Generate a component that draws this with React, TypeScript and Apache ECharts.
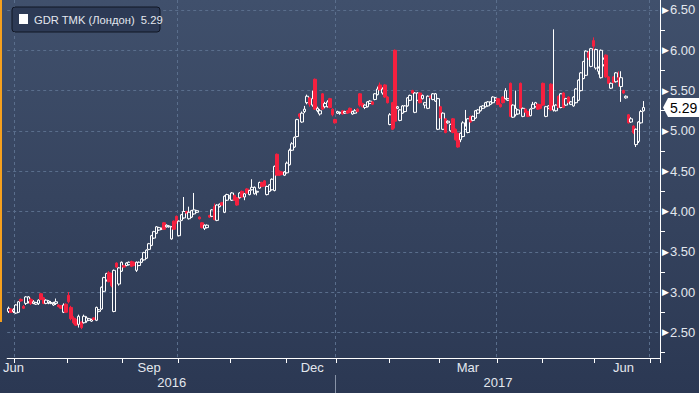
import React, { useEffect, useRef } from "react";
import * as echarts from "echarts";

// ---- x categories: trading days per month (London calendar) ----
const MONTH_KEYS = ["2016-06", "2016-07", "2016-08", "2016-09", "2016-10", "2016-11", "2016-12", "2017-01", "2017-02", "2017-03", "2017-04", "2017-05", "2017-06", "2017-07"];
const TRADING_DAYS = [3, 21, 22, 22, 21, 22, 20, 21, 20, 23, 18, 21, 22, 4];
const MONTH_LABEL_IDX = [2, 56, 121, 183, 245];
const MONTH_LABEL_TXT = ["Jun", "Sep", "Dec", "Mar", "Jun"];
const YEAR_LABEL_IDX = [65, 195];
const YEAR_LABEL_TXT = ["2016", "2017"];
const GRID_MONTHS = ["2016-07", "2016-10", "2017-01", "2017-04", "2017-07"];
const YEAR_SPLIT_MONTH = "2017-01";
const SERIES_NAME = "GDR TMK (Лондон)";
const Y_MIN = 2;
const Y_MAX = 6.624;
const Y_STEP = 0.5;

// ---- daily candles: [open, close, low, high] ----
const OHLC: [number, number, number, number][] = [
  [2.76, 2.80, 2.74, 2.82], [2.79, 2.75, 2.74, 2.80], [2.76, 2.78, 2.74, 2.80], [2.74, 2.84, 2.73, 2.85], [2.75, 2.88, 2.74, 2.89],
  [2.91, 2.89, 2.88, 2.92], [2.82, 2.80, 2.79, 2.84], [2.86, 2.94, 2.84, 2.95], [2.88, 2.94, 2.86, 2.95], [2.91, 2.86, 2.84, 2.93],
  [2.86, 2.88, 2.85, 2.90], [2.85, 2.87, 2.84, 2.88], [2.86, 2.90, 2.84, 2.91], [2.98, 2.91, 2.90, 2.99], [2.93, 2.86, 2.85, 2.94],
  [2.86, 2.90, 2.85, 2.91], [2.87, 2.89, 2.85, 2.90], [2.86, 2.87, 2.85, 2.89], [2.84, 2.86, 2.83, 2.88], [2.86, 2.88, 2.84, 2.92],
  [2.84, 2.82, 2.81, 2.85], [2.83, 2.80, 2.79, 2.84], [2.75, 2.84, 2.74, 2.86], [2.85, 2.75, 2.74, 2.86], [2.96, 2.88, 2.86, 3.00],
  [2.81, 2.67, 2.65, 2.83], [2.68, 2.62, 2.60, 2.70], [2.66, 2.59, 2.58, 2.68], [2.60, 2.70, 2.56, 2.72], [2.63, 2.56, 2.54, 2.64],
  [2.62, 2.70, 2.61, 2.72], [2.64, 2.68, 2.62, 2.70], [2.65, 2.67, 2.64, 2.68], [2.64, 2.66, 2.63, 2.67], [2.68, 2.66, 2.65, 2.69],
  [2.65, 2.81, 2.64, 2.82], [2.76, 2.78, 2.75, 2.79], [2.79, 3.06, 2.78, 3.07], [3.01, 3.18, 3.00, 3.19], [3.15, 3.23, 3.13, 3.24],
  [3.24, 3.13, 3.12, 3.26], [3.22, 3.08, 3.06, 3.24], [2.76, 3.27, 2.75, 3.28], [3.36, 3.31, 3.30, 3.37], [3.10, 3.30, 3.08, 3.31],
  [3.26, 3.37, 3.25, 3.38], [3.33, 3.31, 3.30, 3.34], [3.33, 3.36, 3.32, 3.37], [3.34, 3.37, 3.33, 3.38], [3.38, 3.32, 3.31, 3.39],
  [3.37, 3.33, 3.32, 3.38], [3.27, 3.37, 3.25, 3.38], [3.33, 3.37, 3.32, 3.38], [3.37, 3.41, 3.36, 3.42], [3.40, 3.49, 3.39, 3.50],
  [3.42, 3.52, 3.41, 3.53], [3.53, 3.60, 3.52, 3.61], [3.58, 3.70, 3.57, 3.71], [3.67, 3.75, 3.66, 3.76], [3.73, 3.81, 3.72, 3.82],
  [3.77, 3.80, 3.76, 3.81], [3.78, 3.79, 3.77, 3.80], [3.86, 3.78, 3.77, 3.87], [3.81, 3.83, 3.80, 3.84], [3.81, 3.82, 3.80, 3.83],
  [3.66, 3.81, 3.65, 3.82], [3.88, 3.78, 3.77, 3.89], [3.94, 3.86, 3.85, 3.95], [3.70, 3.88, 3.69, 3.89], [3.89, 3.96, 3.88, 3.97],
  [3.92, 4.00, 3.91, 4.18], [4.00, 3.98, 3.97, 4.01], [3.91, 3.99, 3.90, 4.06], [3.93, 4.01, 3.92, 4.02], [3.97, 4.02, 3.96, 4.23],
  [3.99, 4.01, 3.98, 4.02], [3.93, 3.91, 3.90, 3.94], [3.86, 3.80, 3.79, 3.87], [3.79, 3.83, 3.77, 3.84], [3.80, 3.83, 3.79, 3.84],
  [3.95, 3.93, 3.92, 3.96], [3.94, 4.02, 3.93, 4.03], [4.06, 3.90, 3.89, 4.10], [3.89, 4.08, 3.88, 4.09], [4.06, 4.09, 4.05, 4.10],
  [4.11, 4.08, 4.07, 4.12], [3.99, 4.19, 3.98, 4.20], [4.14, 4.21, 4.13, 4.22], [4.17, 4.19, 4.16, 4.20], [4.14, 4.23, 4.13, 4.24],
  [4.20, 4.14, 4.13, 4.21], [4.17, 4.08, 4.07, 4.18], [4.17, 4.23, 4.16, 4.24], [4.25, 4.18, 4.17, 4.26], [4.18, 4.22, 4.14, 4.23],
  [4.28, 4.23, 4.22, 4.29], [4.21, 4.26, 4.20, 4.27], [4.27, 4.30, 4.26, 4.40], [4.22, 4.30, 4.21, 4.31], [4.24, 4.25, 4.20, 4.26],
  [4.29, 4.36, 4.28, 4.37], [4.36, 4.31, 4.30, 4.37], [4.38, 4.32, 4.31, 4.39], [4.21, 4.31, 4.20, 4.32], [4.25, 4.33, 4.24, 4.34],
  [4.27, 4.40, 4.26, 4.41], [4.26, 4.56, 4.25, 4.57], [4.71, 4.45, 4.44, 4.72], [4.50, 4.45, 4.44, 4.51], [4.49, 4.46, 4.45, 4.50],
  [4.45, 4.49, 4.44, 4.50], [4.48, 4.60, 4.47, 4.62], [4.58, 4.76, 4.57, 4.78], [4.76, 4.84, 4.75, 4.86], [4.80, 4.92, 4.79, 4.93],
  [4.93, 5.14, 4.92, 5.15], [5.21, 5.18, 5.15, 5.22], [5.11, 5.22, 5.10, 5.24], [5.24, 5.27, 5.22, 5.31], [5.35, 5.43, 5.33, 5.45],
  [5.41, 5.33, 5.30, 5.42], [5.32, 5.40, 5.30, 5.50], [5.64, 5.27, 5.26, 5.65], [5.25, 5.28, 5.23, 5.30], [5.21, 5.25, 5.19, 5.27],
  [5.46, 5.27, 5.26, 5.47], [5.30, 5.34, 5.28, 5.36], [5.30, 5.36, 5.29, 5.38], [5.40, 5.29, 5.28, 5.41], [5.27, 5.20, 5.18, 5.28],
  [5.14, 5.10, 5.09, 5.15], [5.22, 5.24, 5.21, 5.25], [5.22, 5.23, 5.20, 5.24], [5.25, 5.21, 5.20, 5.26], [5.22, 5.24, 5.21, 5.25],
  [5.25, 5.22, 5.21, 5.26], [5.28, 5.23, 5.22, 5.29], [5.21, 5.24, 5.20, 5.25], [5.22, 5.25, 5.21, 5.27], [5.27, 5.24, 5.23, 5.28],
  [5.46, 5.32, 5.30, 5.47], [5.34, 5.30, 5.29, 5.35], [5.29, 5.32, 5.27, 5.33], [5.30, 5.36, 5.29, 5.37], [5.34, 5.37, 5.33, 5.38],
  [5.36, 5.33, 5.32, 5.37], [5.39, 5.46, 5.38, 5.47], [5.45, 5.52, 5.44, 5.55], [5.57, 5.51, 5.50, 5.60], [5.47, 5.52, 5.45, 5.54],
  [5.57, 5.42, 5.41, 5.58], [5.42, 5.35, 5.34, 5.43], [5.08, 5.20, 5.07, 5.22], [5.35, 5.02, 5.01, 5.36], [6.00, 5.12, 5.03, 6.01],
  [5.28, 5.30, 5.27, 5.31], [5.13, 5.26, 5.12, 5.27], [5.22, 5.31, 5.21, 5.32], [5.24, 5.31, 5.23, 5.32], [5.31, 5.41, 5.30, 5.42],
  [5.38, 5.44, 5.37, 5.45], [5.50, 5.47, 5.46, 5.51], [5.23, 5.47, 5.22, 5.48], [5.38, 5.47, 5.37, 5.48], [5.47, 5.35, 5.34, 5.48],
  [5.40, 5.44, 5.39, 5.45], [5.32, 5.35, 5.28, 5.36], [5.28, 5.43, 5.27, 5.44], [5.43, 5.41, 5.40, 5.44], [5.39, 5.46, 5.38, 5.47],
  [5.37, 5.46, 5.36, 5.47], [5.02, 5.40, 5.01, 5.41], [5.30, 5.16, 5.15, 5.31], [5.02, 5.22, 5.01, 5.23], [5.15, 4.98, 4.97, 5.16],
  [5.10, 5.12, 5.09, 5.13], [5.00, 5.08, 4.99, 5.09], [5.15, 4.98, 4.97, 5.16], [5.02, 4.89, 4.88, 5.03], [4.97, 4.80, 4.79, 4.98],
  [4.89, 4.97, 4.86, 4.98], [4.93, 5.10, 4.92, 5.12], [5.02, 5.06, 5.01, 5.26], [4.98, 5.15, 4.97, 5.16], [5.18, 5.11, 5.10, 5.19],
  [5.13, 5.18, 5.12, 5.19], [5.16, 5.25, 5.15, 5.26], [5.22, 5.26, 5.21, 5.27], [5.25, 5.30, 5.24, 5.31], [5.28, 5.31, 5.27, 5.32],
  [5.30, 5.35, 5.29, 5.36], [5.31, 5.36, 5.30, 5.37], [5.33, 5.36, 5.32, 5.37], [5.35, 5.42, 5.34, 5.43], [5.38, 5.41, 5.37, 5.42],
  [5.40, 5.33, 5.32, 5.41], [5.33, 5.30, 5.29, 5.34], [5.42, 5.35, 5.34, 5.43], [5.40, 5.50, 5.39, 5.53], [5.38, 5.40, 5.37, 5.41],
  [5.59, 5.18, 5.17, 5.60], [5.17, 5.32, 5.16, 5.33], [5.20, 5.28, 5.18, 5.50], [5.21, 5.26, 5.20, 5.27], [5.59, 5.28, 5.27, 5.60],
  [5.18, 5.28, 5.17, 5.29], [5.27, 5.23, 5.22, 5.28], [5.24, 5.18, 5.17, 5.25], [5.19, 5.27, 5.18, 5.28], [5.28, 5.33, 5.27, 5.36],
  [5.30, 5.35, 5.29, 5.36], [5.33, 5.27, 5.26, 5.34], [5.32, 5.28, 5.27, 5.33], [5.59, 5.32, 5.31, 5.60], [5.18, 5.30, 5.17, 5.31],
  [5.28, 5.31, 5.27, 5.32], [5.58, 5.26, 5.25, 5.59], [5.26, 5.31, 5.24, 6.26], [5.25, 5.32, 5.24, 5.33], [5.43, 5.29, 5.28, 5.44],
  [5.29, 5.46, 5.28, 5.47], [5.47, 5.29, 5.28, 5.48], [5.32, 5.40, 5.31, 5.41], [5.42, 5.35, 5.34, 5.43], [5.33, 5.36, 5.32, 5.37],
  [5.31, 5.42, 5.30, 5.43], [5.35, 5.52, 5.34, 5.53], [5.38, 5.63, 5.37, 5.64], [5.50, 5.72, 5.49, 5.73], [5.65, 5.86, 5.64, 5.87],
  [5.69, 5.99, 5.68, 6.00], [5.97, 5.91, 5.88, 5.99], [5.80, 6.02, 5.79, 6.03], [6.12, 6.05, 6.00, 6.16], [5.78, 6.01, 5.76, 6.02],
  [5.74, 5.78, 5.70, 5.80], [5.66, 6.00, 5.65, 6.01], [5.82, 5.89, 5.80, 5.91], [5.94, 5.67, 5.66, 5.95], [5.67, 5.59, 5.58, 5.68],
  [5.53, 5.59, 5.52, 5.60], [5.67, 5.60, 5.59, 5.68], [5.61, 5.72, 5.60, 5.73], [5.66, 5.63, 5.55, 5.74], [5.55, 5.66, 5.36, 5.74],
  [5.50, 5.47, 5.46, 5.51], [5.41, 5.43, 5.40, 5.44], [5.20, 5.10, 5.09, 5.21], [5.11, 5.15, 5.10, 5.17], [5.06, 4.98, 4.96, 5.07],
  [4.83, 5.02, 4.80, 5.03], [4.87, 5.11, 4.85, 5.12], [5.10, 5.24, 5.09, 5.26], [5.25, 5.29, 5.24, 5.37],
];

// ---- derived tables ----
const categories: string[] = [];
const monthStartIdx: Record<string, number> = {};
MONTH_KEYS.forEach((m, k) => {
  monthStartIdx[m] = categories.length;
  for (let d = 1; d <= TRADING_DAYS[k]; d++) categories.push(`${m}-${d}`);
});
const monthTickSet = new Set(MONTH_KEYS.slice(1).map((m) => monthStartIdx[m]));
const monthLabelMap: Record<number, string> = {};
MONTH_LABEL_IDX.forEach((i, k) => (monthLabelMap[i] = MONTH_LABEL_TXT[k]));
const yearLabelMap: Record<number, string> = {};
YEAR_LABEL_IDX.forEach((i, k) => (yearLabelMap[i] = YEAR_LABEL_TXT[k]));
const lastClose = OHLC[OHLC.length - 1][1];

const FONT = "'Liberation Sans', Arial, sans-serif";
const TXT = "#e3e7ee";
const GRID_COLOR = "#5a6e8c";
const RED = "#f5203f";
const AXIS_Y = 358;

export default function App() {
  const ref = useRef<HTMLDivElement>(null);
  useEffect(() => {
    const el = ref.current!;
    const chart = echarts.init(el, undefined, { renderer: "svg" });
    chart.setOption({
      animation: false,
      backgroundColor: "transparent",
      grid: { left: 0, right: 39, top: 0, bottom: 20.3 },
      xAxis: [
        {
          type: "category",
          data: categories,
          position: "bottom",
          boundaryGap: true,
          offset: -14.7,
          axisLine: { show: true, lineStyle: { color: "#ffffff", width: 1 } },
          axisTick: { show: true, length: 5, interval: (i: number) => monthTickSet.has(i), lineStyle: { color: "#ffffff" } },
          axisLabel: {
            show: true,
            interval: (i: number) => monthLabelMap[i] !== undefined,
            formatter: (_v: string, i: number) => monthLabelMap[i] ?? "",
            color: TXT,
            fontSize: 13,
            fontFamily: FONT,
            margin: 3,
          },
          splitLine: { show: false },
        },
        {
          type: "category",
          data: categories,
          position: "bottom",
          boundaryGap: true,
          offset: 0,
          axisLine: { show: false },
          axisTick: { show: false },
          axisLabel: {
            show: true,
            interval: (i: number) => yearLabelMap[i] !== undefined,
            formatter: (_v: string, i: number) => yearLabelMap[i] ?? "",
            color: TXT,
            fontSize: 13,
            fontFamily: FONT,
            margin: 3,
          },
          splitLine: { show: false },
        },
      ],
      yAxis: {
        type: "value",
        position: "right",
        min: Y_MIN,
        max: Y_MAX,
        interval: Y_STEP,
        axisLine: { show: false },
        axisTick: { show: false },
        minorTick: { show: true, splitNumber: 2, length: 5, lineStyle: { color: "#ffffff" } },
        minorSplitLine: { show: false },
        axisLabel: {
          margin: 2,
          showMaxLabel: false,
          formatter: (v: number) => (v < 2.4 || v > 6.55 ? "" : `{a|▶}{b|${v.toFixed(2)}}`),
          rich: {
            a: { fontSize: 9, color: "#ffffff", fontFamily: "DejaVu Sans", padding: [0, 1, 0, 0] },
            b: { fontSize: 13, color: TXT, fontFamily: FONT },
          },
        },
        splitLine: { show: true, showMinLine: false, showMaxLine: false, lineStyle: { color: GRID_COLOR, type: [3, 3], width: 1 } },
      },
      series: [
        {
          name: SERIES_NAME,
          type: "candlestick",
          xAxisIndex: 0,
          yAxisIndex: 0,
          data: OHLC,
          barWidth: 3,
          itemStyle: { color: "transparent", color0: RED, borderColor: "#ffffff", borderColor0: RED, borderWidth: 1 },
        },
      ],
    });

    const px = (i: number) => chart.convertToPixel({ xAxisIndex: 0 }, i) as number;
    const bw = px(1) - px(0);
    const edge = (i: number) => px(i) - bw / 2;
    const crisp = (v: number) => Math.round(v) - 0.5;
    const rightX = Math.round(edge(categories.length)) + 0.5;
    const yTag = chart.convertToPixel({ yAxisIndex: 0 }, lastClose) as number;

    const graphics: any[] = [];
    GRID_MONTHS.forEach((m) => {
      const x = crisp(edge(monthStartIdx[m]));
      graphics.push({
        type: "line",
        z: 0,
        silent: true,
        shape: { x1: x, y1: 0, x2: x, y2: AXIS_Y },
        style: { stroke: GRID_COLOR, lineWidth: 1, lineDash: [3, 3] },
      });
    });
    graphics.push({
      type: "line",
      z: 5,
      shape: { x1: rightX, y1: 0, x2: rightX, y2: AXIS_Y + 0.5 },
      style: { stroke: "#ffffff", lineWidth: 1 },
    });
    const ys = crisp(edge(monthStartIdx[YEAR_SPLIT_MONTH]));
    graphics.push({
      type: "line",
      z: 5,
      shape: { x1: ys, y1: 375, x2: ys, y2: 393 },
      style: { stroke: "#8893a7", lineWidth: 1 },
    });
    graphics.push({ type: "rect", z: 5, shape: { x: 0, y: 0, width: 2, height: 322 }, style: { fill: "#f5a01e" } });
    // last price tag
    graphics.push({
      type: "polygon",
      z: 20,
      shape: {
        points: [
          [rightX + 2.5, yTag],
          [rightX + 7.5, yTag - 9.5],
          [699, yTag - 9.5],
          [699, yTag + 9.5],
          [rightX + 7.5, yTag + 9.5],
        ],
      },
      style: { fill: "#ffffff" },
    });
    graphics.push({
      type: "text",
      z: 21,
      x: rightX + 9.5,
      y: yTag,
      style: { text: lastClose.toFixed(2), fill: "#000000", fontSize: 14, fontFamily: FONT, verticalAlign: "middle", align: "left" },
    });
    // legend box
    graphics.push({
      type: "rect",
      z: 20,
      shape: { x: 12, y: 7, width: 148, height: 25, r: 3 },
      style: { fill: "#2d3a55", stroke: "#101624", lineWidth: 1 },
    });
    graphics.push({ type: "rect", z: 21, shape: { x: 19, y: 14, width: 9, height: 10 }, style: { fill: "#ffffff" } });
    graphics.push({
      type: "text",
      z: 21,
      x: 34,
      y: 19.5,
      style: {
        text: `${SERIES_NAME}  ${lastClose.toFixed(2)}`,
        fill: TXT,
        fontSize: 11.2,
        fontFamily: FONT,
        verticalAlign: "middle",
        align: "left",
      },
    });
    chart.setOption({ graphic: graphics });

    return () => chart.dispose();
  }, []);

  return (
    <div
      ref={ref}
      style={{
        position: "fixed",
        left: 0,
        top: 0,
        width: 699,
        height: 393,
        background: "linear-gradient(to bottom, #40506c 0%, #36445f 50%, #2b3853 100%)",
      }}
    />
  );
}
